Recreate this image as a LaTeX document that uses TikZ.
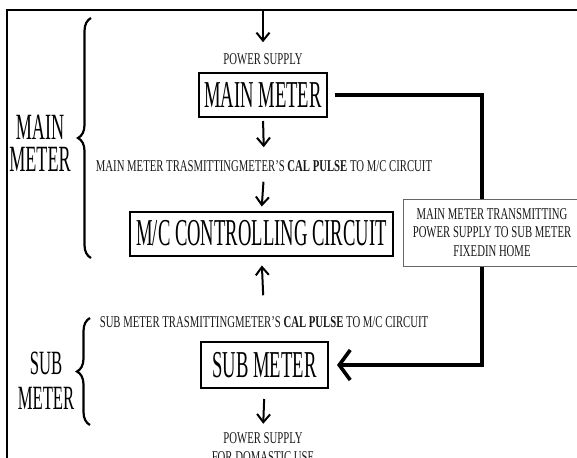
\documentclass[tikz,border=0pt]{standalone}
\usepackage{fontspec}
\setmainfont{Liberation Serif}
\newfontfamily\bigcond{Liberation Serif}[FakeStretch=0.49]
\newfontfamily\smallcond{Liberation Serif}[FakeStretch=0.65]
\usetikzlibrary{
  arrows.meta,
  decorations.pathreplacing
}

\begin{document}
\begin{tikzpicture}[
  x=1pt, y=-1pt,
  every node/.style={align=center, text=black!90},
  note/.style={font=\smallcond\fontsize{16.5}{19}\selectfont, inner sep=2pt},
  meterbox/.style={
    rectangle, draw, line width=2pt, text=black,
    font=\bigcond\fontsize{38}{40}\selectfont,
    minimum height=44pt, inner xsep=5pt
  },
  sidebox/.style={
    rectangle, draw=black!60, line width=0.9pt, fill=white,
    font=\smallcond\fontsize{16.5}{18.5}\selectfont,
    minimum width=178pt, minimum height=67pt
  },
  grouptag/.style={inner sep=0pt, text=black},
  arrow/.style={-{Straight Barb[length=8pt,width=13pt]}, line width=2pt},
  feed/.style={-{Straight Barb[length=11pt,width=30pt]}, line width=3.6pt},
  bracket/.style={decorate, decoration={brace, amplitude=13pt}, line width=2.2pt}
]
 % page and cropped outer frame
 \useasboundingbox (0,0) rectangle (577,457);
 \clip (0,0) rectangle (577,457);
 \draw[line width=2pt] (620,10) -- (7,10) -- (7,500);
 \coordinate (in) at (263,10);

 % Main meter part
 \node[note] (ps1) at (263,59) {POWER SUPPLY};
 \node[meterbox, minimum width=126pt] (mm) at (263,95) {MAIN METER};
 \node[note] (cap1) at (264,166)
  {MAIN METER TRASMITTINGMETER’S \textbf{CAL PULSE} TO M/C CIRCUIT};
 \node[meterbox, minimum width=263pt] (mc) at (261.5,233.5) {M/C CONTROLLING CIRCUIT};

 \draw[arrow, shorten >=9pt] (in) -- (ps1.north);
 \draw[arrow, shorten <=3pt, shorten >=11pt] (mm.south) -- (cap1.north);
 \draw[arrow, shorten <=8pt, shorten >=4pt] (cap1.south) -- (mc.north);

 % Sub meter part
 \node[note] (cap2) at (264,322)
  {SUB METER TRASMITTINGMETER’S \textbf{CAL PULSE} TO M/C CIRCUIT};
 \node[meterbox, minimum width=127pt, minimum height=46pt] (sm) at (264.5,365) {SUB METER};
 \node[note] (ps2) at (263,448) {POWER SUPPLY\\FOR DOMASTIC USE};

 \draw[arrow, shorten <=19pt, shorten >=9pt] (cap2.north) -- (mc.south);
 \draw[arrow, shorten <=10pt, shorten >=7pt] (sm.south) -- (ps2.north);

 % Supply line from main meter down to sub meter
 \coordinate (rt) at (482,0);
 \draw[feed] ([xshift=7pt]mm.east) -| (rt |- sm.east) -- ([xshift=8pt]sm.east);
 \node[sidebox] (tx) at (492,232.5)
  {MAIN METER TRANSMITTING\\POWER SUPPLY TO SUB METER\\FIXEDIN HOME};

 % Group labels with braces
 \node[grouptag, font=\bigcond\fontsize{37}{32}\selectfont] (tmain) at (40,143) {MAIN\\METER};
 \coordinate (mtop) at (91,18);
 \coordinate (mbot) at (91,258);
 \draw[bracket] (mbot) -- (mtop);

 \node[grouptag, font=\bigcond\fontsize{34}{35}\selectfont] (tsub) at (46,380.5) {SUB\\METER};
 \coordinate (stop) at (90,318);
 \coordinate (sbot) at (90,425);
 \draw[bracket] (sbot) -- (stop);
\end{tikzpicture}
\end{document}
